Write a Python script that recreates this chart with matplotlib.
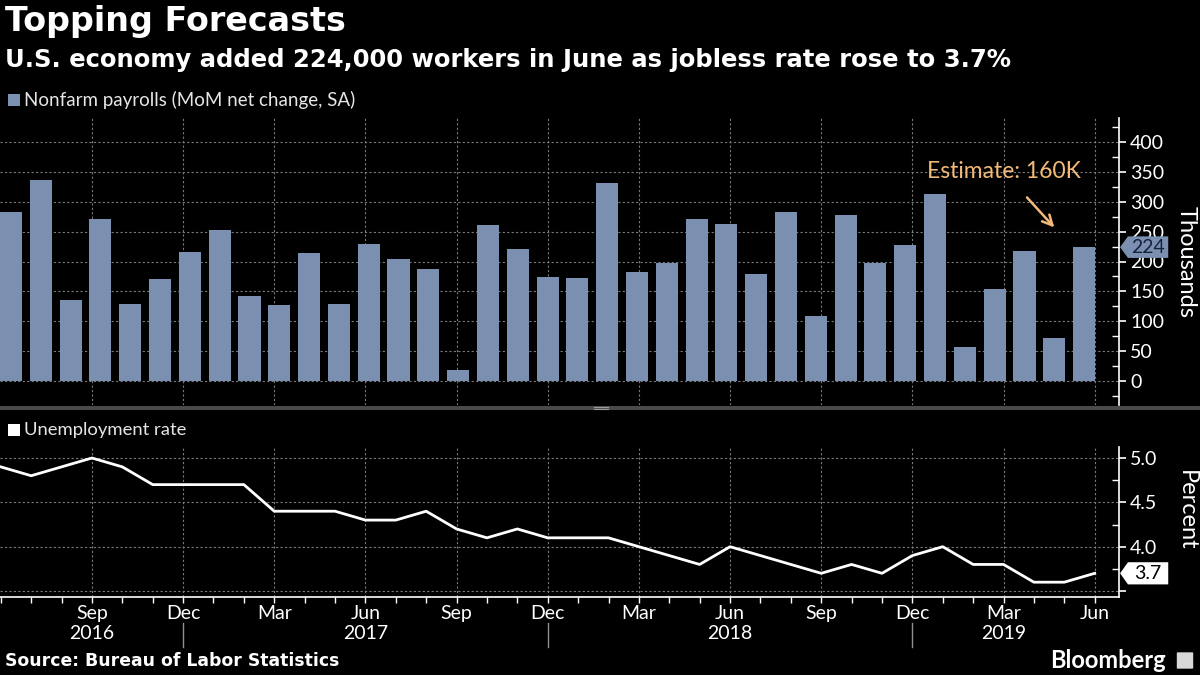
import numpy as np
import matplotlib
matplotlib.use('Agg')
import matplotlib.pyplot as plt
import matplotlib.transforms as mtransforms
from matplotlib.patches import Rectangle, Polygon, FancyBboxPatch

plt.rcParams['font.family'] = ['Lato', 'DejaVu Sans']

# 数据：2016年6月 - 2019年6月
monthLabels = ['Jun', 'Jul', 'Aug', 'Sep', 'Oct', 'Nov', 'Dec', 'Jan', 'Feb', 'Mar', 'Apr', 'May']
years = [2016] * 7 + [2017] * 12 + [2018] * 12 + [2019] * 6
monthNames = [monthLabels[i % 12] for i in range(37)]

payrolls = [282, 337, 135, 271, 129, 171, 216, 252, 142, 127, 214, 129,
            229, 204, 187, 18, 261, 221, 174, 172, 331, 182, 197, 271,
            262, 179, 283, 109, 278, 197, 227, 313, 57, 154, 217, 72, 224]
unemployment = [4.9, 4.8, 4.9, 5.0, 4.9, 4.7, 4.7, 4.7, 4.7, 4.4, 4.4, 4.4,
                4.3, 4.3, 4.4, 4.2, 4.1, 4.2, 4.1, 4.1, 4.1, 4.0, 3.9, 3.8,
                4.0, 3.9, 3.8, 3.7, 3.8, 3.7, 3.9, 4.0, 3.8, 3.8, 3.6, 3.6, 3.7]
estimate = 160

barColor = '#7b8fb1'
gridColor = '#7a7a7a'
orange = '#f2b978'

W, H = 1200, 675
fig = plt.figure(figsize=(12, 6.75), dpi=100, facecolor='black')
ax1 = fig.add_axes([0, 1 - 405 / H, 1119 / W, (405 - 118) / H], facecolor='black')
ax2 = fig.add_axes([0, 1 - 597 / H, 1119 / W, (597 - 447) / H], facecolor='black')

n = len(payrolls)
idx = np.arange(n)
mIdx = np.arange(n)

# 上面的柱状图
ax1.bar(idx, payrolls, width=0.74, color=barColor, zorder=2)
ax1.set_xlim(-0.369, 37.17)
ax1.set_ylim(-40, 440)
ax1.set_xticks([])
ax1.set_yticks(np.arange(0, 401, 50))
ax1.set_yticks(np.arange(-25, 426, 50), minor=True)
ax1.yaxis.tick_right()

# 下面的失业率
ax2.plot(mIdx, unemployment, color='white', lw=2, zorder=3)
ax2.set_xlim(-0.026, 36.80)
ax2.set_ylim(3.433, 5.124)
ax2.set_yticks([3.5, 4.0, 4.5, 5.0])
ax2.set_yticklabels(['', '4.0', '4.5', '5.0'])
ax2.set_yticks([3.75, 4.25, 4.75], minor=True)
ax2.yaxis.tick_right()
qIdx = [i for i in mIdx if monthNames[i] in ('Sep', 'Dec', 'Mar', 'Jun') and i > 0]
ax2.set_xticks(qIdx)
ax2.set_xticklabels([monthNames[i] for i in qIdx])
ax2.set_xticks(mIdx, minor=True)

for ax in (ax1, ax2):
    for s in ax.spines.values():
        s.set_visible(False)
    ax.spines['right'].set_visible(True)
    ax.spines['right'].set_color('white')
    ax.spines['right'].set_linewidth(1.2)
    ax.tick_params(axis='y', which='major', colors='white', labelcolor='white',
                   labelsize=14, length=5, width=1.2, direction='out', pad=3)
    ax.tick_params(axis='y', which='minor', colors='white', length=5, width=1.0, direction='in')
    ax.grid(axis='y', which='major', color=gridColor, lw=0.8, ls=(0, (2, 2)), zorder=0)
    ax.set_axisbelow(True)

ax2.spines['bottom'].set_visible(True)
ax2.spines['bottom'].set_color('white')
ax2.spines['bottom'].set_linewidth(1.2)
ax2.tick_params(axis='x', which='both', colors='white', labelcolor='white',
                labelsize=14, length=4, width=1.0, direction='out', pad=2)

# 竖的网格线，两个面板都按月份位置画
blend1 = mtransforms.blended_transform_factory(ax2.transData, ax1.transAxes)
blend2 = mtransforms.blended_transform_factory(ax2.transData, ax2.transAxes)
for q in qIdx:
    ax1.plot([q, q], [0, 1], transform=blend1, color=gridColor, lw=0.8, ls=(0, (2, 2)), zorder=1)
    ax2.plot([q, q], [0, 1], transform=blend2, color=gridColor, lw=0.8, ls=(0, (2, 2)), zorder=1)

# 年份标签和分隔线
decIdx = [i for i in mIdx if monthNames[i] == 'Dec']
bounds = [0] + decIdx + [n - 1]
for i in range(len(bounds) - 1):
    ax2.text((bounds[i] + bounds[i + 1]) / 2, -0.245, str(years[bounds[i + 1]]),
             transform=blend2, color='white', fontsize=14, ha='center', va='center', clip_on=False)
for d in decIdx:
    ax2.plot([d, d], [-0.17, -0.33], transform=blend2, color='#909090', lw=1.0, clip_on=False)

# 最新值标签
def valueTag(ax, val, halfH, fc, tc):
    tr = mtransforms.blended_transform_factory(ax.transAxes, ax.transData)
    pts = [(1.001, val), (1.008, val + halfH), (1.044, val + halfH), (1.044, val - halfH), (1.008, val - halfH)]
    ax.add_patch(Polygon(pts, closed=True, transform=tr, facecolor=fc, edgecolor='none',
                         clip_on=False, zorder=6))
    ax.text(1.026, val, '%g' % val, transform=tr, color=tc, fontsize=14,
            ha='center', va='center', zorder=7, clip_on=False)

valueTag(ax1, payrolls[-1], 18, barColor, '#14223a')
valueTag(ax2, unemployment[-1], 0.125, 'white', 'black')

# 预期注释
ax1.annotate('Estimate: %dK' % estimate, xy=(35.0, 257), xytext=(33.3, 350),
             color=orange, fontsize=16.5, ha='center', va='center',
             arrowprops=dict(arrowstyle='->', color=orange, lw=1.8,
                             shrinkA=12, shrinkB=0, mutation_scale=18))

fig.text(1186 / W, 1 - 262 / H, 'Thousands', rotation=270, color='white', fontsize=17,
         ha='center', va='center')
fig.text(1186 / W, 1 - 510 / H, 'Percent', rotation=270, color='white', fontsize=17,
         ha='center', va='center')

# 标题等
fig.text(5 / W, 1 - 22 / H, 'Topping Forecasts', color='white', fontsize=24,
         fontweight='bold', family=['DejaVu Sans'], ha='left', va='center')
fig.text(5 / W, 1 - 60 / H, 'U.S. economy added 224,000 workers in June as jobless rate rose to 3.7%',
         color='white', fontsize=17.5, fontweight='bold', family=['DejaVu Sans'], ha='left', va='center')

fig.add_artist(Rectangle((8 / W, 1 - 106 / H), 12 / W, 12 / H, transform=fig.transFigure,
                         facecolor=barColor, edgecolor='none'))
fig.text(24 / W, 1 - 100 / H, 'Nonfarm payrolls (MoM net change, SA)', color='#e6e6e6',
         fontsize=13.5, ha='left', va='center')
fig.add_artist(Rectangle((8 / W, 1 - 436 / H), 12 / W, 12 / H, transform=fig.transFigure,
                         facecolor='white', edgecolor='none'))
fig.text(24 / W, 1 - 430 / H, 'Unemployment rate', color='#e6e6e6',
         fontsize=13.3, ha='left', va='center')

# 中间的分隔条
fig.add_artist(Rectangle((0, 1 - 410 / H), 1, 4 / H, transform=fig.transFigure,
                         facecolor='#4a4a4a', edgecolor='none'))
for dy in (406.5, 408.5):
    fig.add_artist(plt.Line2D([594 / W, 608 / W], [1 - dy / H, 1 - dy / H],
                              transform=fig.transFigure, color='#9a9a9a', lw=0.8))

fig.text(5 / W, 1 - 661 / H, 'Source: Bureau of Labor Statistics', color='white',
         fontsize=12.4, fontweight='bold', family=['DejaVu Sans'], ha='left', va='center')
fig.text(1166 / W, 1 - 660 / H, 'Bloomberg', color='white', fontsize=17,
         fontweight='bold', ha='right', va='center')
fig.add_artist(FancyBboxPatch((1178 / W, 1 - 668 / H), 14 / W, 15 / H,
                              boxstyle='round,pad=0.001', transform=fig.transFigure,
                              facecolor='#d8d8d8', edgecolor='none'))

fig.savefig('out.png', dpi=100, facecolor='black')
